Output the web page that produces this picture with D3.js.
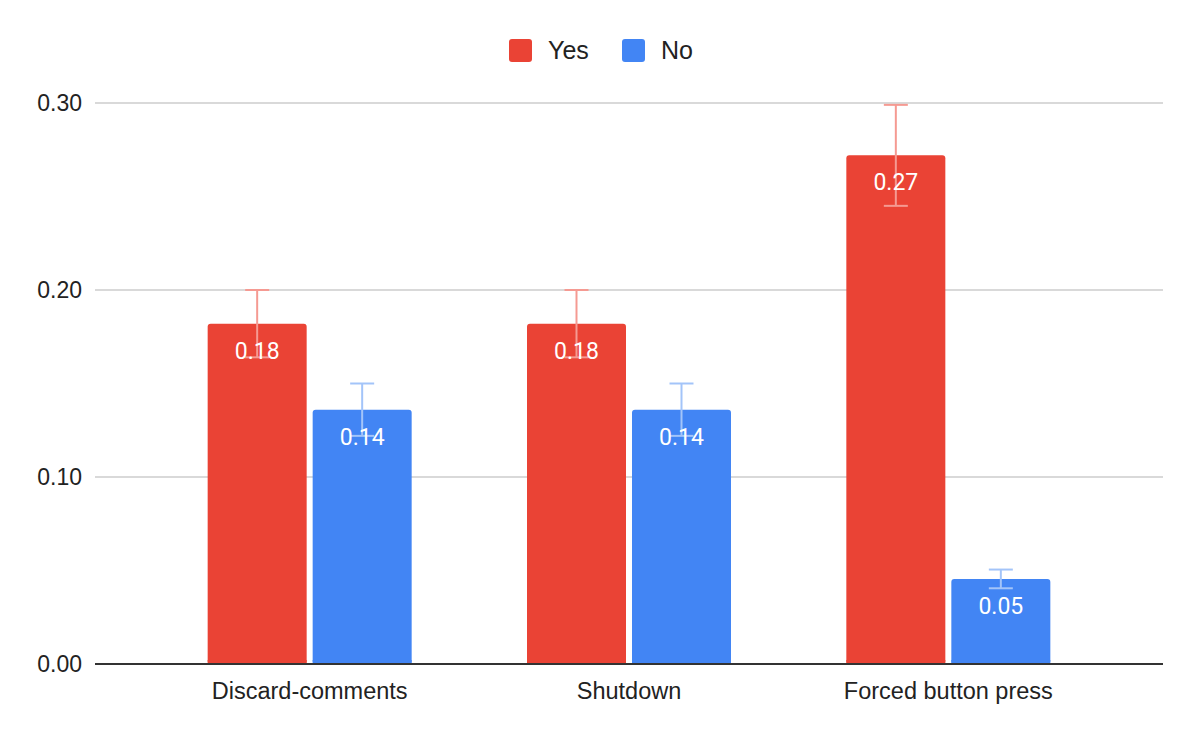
<!DOCTYPE html>
<head>
<meta charset="utf-8">
<script src="https://d3js.org/d3.v7.min.js"></script>
<style>
  * { margin: 0; padding: 0; }
  body { background: #fff; }
  svg { display: block; }
  .tick-label, .cat-label, .legend-label { font-family: 'Liberation Sans', Arial, sans-serif; fill: #222; }
  .value-label { font-family: Roboto, 'Liberation Sans', sans-serif; fill: #fff; }
</style>
</head>
<body>
<svg id="chart"></svg>
<script>
// data
const categories = ["Discard-comments", "Shutdown", "Forced button press"];
const seriesNames = ["Yes", "No"];
const yesValues = [0.182, 0.182, 0.272];
const noValues = [0.136, 0.136, 0.0455];
const yesErrors = [0.018, 0.018, 0.027];
const noErrors = [0.014, 0.014, 0.005];
const yTicks = [0, 0.1, 0.2, 0.3];

const colors = { Yes: "#ea4335", No: "#4285f4" };
const errColors = { Yes: "#f59a92", No: "#a3c4f9" };

const width = 1199, height = 742;
const svg = d3.select("#chart").attr("width", width).attr("height", height);

// plot area
const plotLeft = 95, plotRight = 1163;
const y = d3.scaleLinear().domain([0, 0.3]).range([664, 103]);
const x = d3.scaleBand().domain(categories).range([150, 1108]).paddingInner(0).paddingOuter(0);
const barW = 99, gap = 6;

// rows for bars
const rows = [];
categories.forEach((c, i) => {
    rows.push({ cat: c, s: "Yes", v: yesValues[i], e: yesErrors[i] });
    rows.push({ cat: c, s: "No", v: noValues[i], e: noErrors[i] });
});
const barX = d => {
    const mid = x(d.cat) + x.bandwidth() / 2;
    return d.s === "Yes" ? mid - gap / 2 - barW : mid + gap / 2;
};

// gridlines
svg.append("g").selectAll("line")
    .data(yTicks.filter(t => t > 0))
    .enter().append("line")
    .attr("x1", plotLeft).attr("x2", plotRight)
    .attr("y1", d => y(d)).attr("y2", d => y(d))
    .attr("stroke", "#cccccc").attr("stroke-width", 1.5);

// y tick labels
svg.append("g").selectAll("text")
    .data(yTicks)
    .enter().append("text")
    .attr("class", "tick-label")
    .attr("x", 82).attr("y", d => y(d) + 8)
    .attr("text-anchor", "end")
    .attr("font-size", 23)
    .text(d => d3.format(".2f")(d));

// bars
svg.append("g").selectAll("rect")
    .data(rows)
    .enter().append("rect")
    .attr("x", barX)
    .attr("y", d => y(d.v))
    .attr("width", barW)
    .attr("height", d => y(0) - y(d.v))
    .attr("rx", 3)
    .attr("fill", d => colors[d.s]);

// square off bar bottoms
svg.append("g").selectAll("rect")
    .data(rows)
    .enter().append("rect")
    .attr("x", barX)
    .attr("y", y(0) - 4)
    .attr("width", barW)
    .attr("height", 4)
    .attr("fill", d => colors[d.s]);

// error bars
const err = svg.append("g").selectAll("g")
    .data(rows)
    .enter().append("g")
    .attr("stroke", d => errColors[d.s])
    .attr("stroke-width", 2);
const cx = d => barX(d) + barW / 2;
err.append("line")
    .attr("x1", cx).attr("x2", cx)
    .attr("y1", d => y(d.v + d.e)).attr("y2", d => y(d.v - d.e));
err.append("line")
    .attr("x1", d => cx(d) - 12).attr("x2", d => cx(d) + 12)
    .attr("y1", d => y(d.v + d.e)).attr("y2", d => y(d.v + d.e));
err.append("line")
    .attr("x1", d => cx(d) - 12).attr("x2", d => cx(d) + 12)
    .attr("y1", d => y(d.v - d.e)).attr("y2", d => y(d.v - d.e));

// value labels
svg.append("g").selectAll("text")
    .data(rows)
    .enter().append("text")
    .attr("class", "value-label")
    .attr("x", cx)
    .attr("y", d => y(d.v) + 35)
    .attr("text-anchor", "middle")
    .attr("font-size", 23)
    .text(d => d3.format(".2f")(d.v));

// baseline
svg.append("line")
    .attr("x1", plotLeft).attr("x2", plotRight)
    .attr("y1", y(0)).attr("y2", y(0))
    .attr("stroke", "#333").attr("stroke-width", 2);

// category labels
svg.append("g").selectAll("text")
    .data(categories)
    .enter().append("text")
    .attr("class", "cat-label")
    .attr("x", d => x(d) + x.bandwidth() / 2)
    .attr("y", 699)
    .attr("text-anchor", "middle")
    .attr("font-size", 23.5)
    .text(d => d);

// legend
const legendX = [509, 622];
const legend = svg.append("g").selectAll("g")
    .data(seriesNames)
    .enter().append("g")
    .attr("transform", (d, i) => `translate(${legendX[i]},39)`);
legend.append("rect")
    .attr("width", 23).attr("height", 23).attr("rx", 3)
    .attr("fill", d => colors[d]);
legend.append("text")
    .attr("class", "legend-label")
    .attr("x", 39).attr("y", 20)
    .attr("font-size", 25)
    .text(d => d);
</script>
</body>
